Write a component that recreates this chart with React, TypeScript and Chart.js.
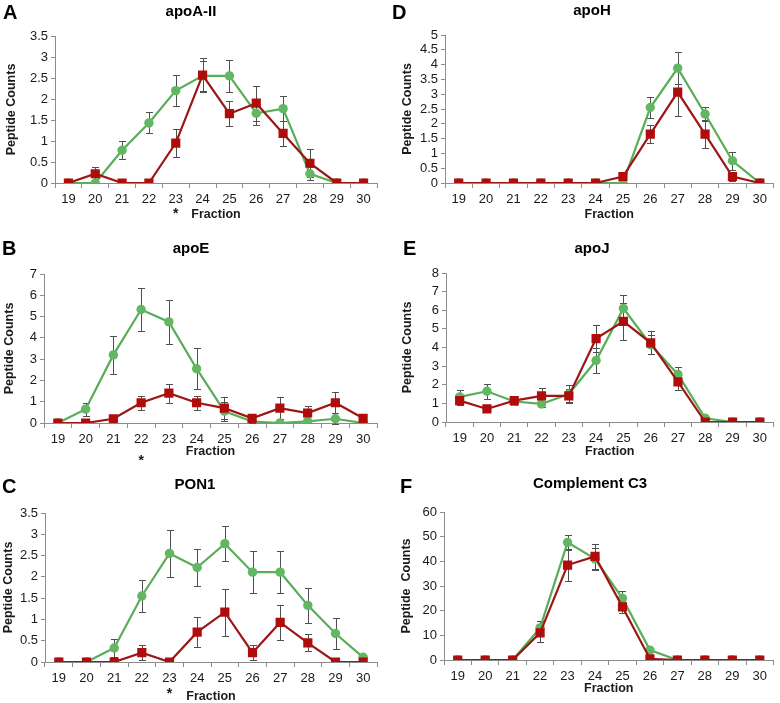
import React, { useEffect, useRef } from 'react';
import { Chart, registerables } from 'chart.js';

Chart.register(...registerables);

const FRACTIONS = ['19', '20', '21', '22', '23', '24', '25', '26', '27', '28', '29', '30'];

const APOA2_GREEN = [0, 0, 0.78, 1.43, 2.2, 2.55, 2.55, 1.66, 1.77, 0.22, 0, 0];
const APOA2_GREEN_ERR = [0, 0, 0.21, 0.25, 0.36, 0.36, 0.38, 0.28, 0.3, 0.15, 0, 0];
const APOA2_RED = [0, 0.22, 0, 0, 0.95, 2.57, 1.65, 1.9, 1.18, 0.47, 0, 0];
const APOA2_RED_ERR = [0, 0.17, 0, 0, 0.33, 0.4, 0.3, 0.42, 0.3, 0.33, 0, 0];

const APOE_GREEN = [0, 0.65, 3.2, 5.33, 4.75, 2.55, 0.55, 0.07, 0, 0.08, 0.2, 0];
const APOE_GREEN_ERR = [0, 0.3, 0.9, 1.0, 1.05, 0.97, 0.45, 0.05, 0, 0.05, 0.25, 0];
const APOE_RED = [0, 0, 0.2, 0.95, 1.4, 0.95, 0.7, 0.22, 0.7, 0.47, 0.95, 0.22];
const APOE_RED_ERR = [0, 0, 0.05, 0.33, 0.45, 0.33, 0.5, 0.08, 0.5, 0.33, 0.5, 0.05];

const PON1_GREEN = [0, 0, 0.33, 1.55, 2.55, 2.22, 2.78, 2.11, 2.11, 1.33, 0.67, 0.11];
const PON1_GREEN_ERR = [0, 0, 0.22, 0.37, 0.55, 0.44, 0.41, 0.5, 0.5, 0.42, 0.37, 0.05];
const PON1_RED = [0, 0, 0, 0.22, 0, 0.7, 1.17, 0.22, 0.93, 0.45, 0, 0];
const PON1_RED_ERR = [0, 0, 0, 0.17, 0, 0.35, 0.55, 0.17, 0.42, 0.2, 0, 0];

const APOH_GREEN = [0, 0, 0, 0, 0, 0, 0, 2.55, 3.88, 2.33, 0.75, 0];
const APOH_GREEN_ERR = [0, 0, 0, 0, 0, 0, 0, 0.35, 0.53, 0.25, 0.3, 0];
const APOH_RED = [0, 0, 0, 0, 0, 0, 0.22, 1.65, 3.07, 1.65, 0.22, 0];
const APOH_RED_ERR = [0, 0, 0, 0, 0, 0, 0.15, 0.3, 0.8, 0.47, 0.15, 0];

const APOJ_GREEN = [1.35, 1.65, 1.1, 0.97, 1.5, 3.3, 6.1, 4.15, 2.55, 0.2, 0, 0];
const APOJ_GREEN_ERR = [0.38, 0.4, 0.2, 0.15, 0.5, 0.67, 0.7, 0.5, 0.4, 0.1, 0, 0];
const APOJ_RED = [1.15, 0.7, 1.15, 1.4, 1.4, 4.48, 5.4, 4.25, 2.15, 0, 0, 0];
const APOJ_RED_ERR = [0.25, 0.15, 0.25, 0.45, 0.35, 0.72, 1.0, 0.62, 0.45, 0, 0, 0];

const C3_GREEN = [0, 0, 0, 13, 47.7, 41, 25, 4, 0, 0, 0, 0];
const C3_GREEN_ERR = [0, 0, 0, 3, 3, 4.5, 3, 0.5, 0, 0, 0, 0];
const C3_RED = [0, 0, 0, 11, 38.5, 42, 21.5, 0.5, 0, 0, 0, 0];
const C3_RED_ERR = [0, 0, 0, 3.5, 6.5, 5, 2.5, 0, 0, 0, 0, 0];

const FONT = 'Arial, "Liberation Sans", Helvetica, sans-serif';
const GREEN_LINE = '#58ad58';
const GREEN_FILL = '#62b762';
const RED_LINE = '#9c1616';
const RED_FILL = '#b00c0c';
const AXIS = '#8c8c8c';
const ERR = '#4f4f4f';
const TEXT = '#1a1a1a';

type PanelCfg = {
  letter: string;
  title: string;
  yTitle: string;
  yMax: number;
  yStep: number;
  green: number[];
  greenErr: number[];
  red: number[];
  redErr: number[];
  star: string | null;
  x0: number; y0: number; w: number; h: number;
  L: number; T: number; R: number; B: number;
  titleX: number; titleY: number; fracY: number; yTitleX: number;
  letterX: number; letterBase: number; starBase: number;
};

const PANELS: PanelCfg[] = [
  { letter: 'A', title: 'apoA-II', yTitle: 'Peptide Counts', yMax: 3.5, yStep: 0.5,
    green: APOA2_GREEN, greenErr: APOA2_GREEN_ERR, red: APOA2_RED, redErr: APOA2_RED_ERR, star: '23',
    x0: 0, y0: 0, w: 390, h: 230, L: 55, T: 36, R: 377, B: 183, titleX: 191, titleY: 12, fracY: 215, yTitleX: 12,
    letterX: 3, letterBase: 19, starBase: 218 },
  { letter: 'B', title: 'apoE', yTitle: 'Peptide Counts', yMax: 7, yStep: 1,
    green: APOE_GREEN, greenErr: APOE_GREEN_ERR, red: APOE_RED, redErr: APOE_RED_ERR, star: '22',
    x0: 0, y0: 230, w: 390, h: 230, L: 44, T: 44, R: 377, B: 193, titleX: 191, titleY: 19, fracY: 222, yTitleX: 10,
    letterX: 2, letterBase: 25, starBase: 235 },
  { letter: 'C', title: 'PON1', yTitle: 'Peptide Counts', yMax: 3.5, yStep: 0.5,
    green: PON1_GREEN, greenErr: PON1_GREEN_ERR, red: PON1_RED, redErr: PON1_RED_ERR, star: '23',
    x0: 0, y0: 460, w: 390, h: 243, L: 45, T: 53, R: 377, B: 202, titleX: 195, titleY: 25, fracY: 237, yTitleX: 9,
    letterX: 2, letterBase: 33, starBase: 238 },
  { letter: 'D', title: 'apoH', yTitle: 'Peptide Counts', yMax: 5, yStep: 0.5,
    green: APOH_GREEN, greenErr: APOH_GREEN_ERR, red: APOH_RED, redErr: APOH_RED_ERR, star: null,
    x0: 390, y0: 0, w: 390, h: 230, L: 55, T: 35, R: 388, B: 183, titleX: 202, titleY: 11, fracY: 215, yTitleX: 18,
    letterX: 2, letterBase: 19, starBase: 0 },
  { letter: 'E', title: 'apoJ', yTitle: 'Peptide Counts', yMax: 8, yStep: 1,
    green: APOJ_GREEN, greenErr: APOJ_GREEN_ERR, red: APOJ_RED, redErr: APOJ_RED_ERR, star: null,
    x0: 390, y0: 230, w: 390, h: 230, L: 56, T: 43, R: 386, B: 192, titleX: 202, titleY: 19, fracY: 222, yTitleX: 18,
    letterX: 13, letterBase: 25, starBase: 0 },
  { letter: 'F', title: 'Complement C3', yTitle: 'Peptide  Counts', yMax: 60, yStep: 10,
    green: C3_GREEN, greenErr: C3_GREEN_ERR, red: C3_RED, redErr: C3_RED_ERR, star: null,
    x0: 390, y0: 460, w: 390, h: 243, L: 54, T: 52, R: 385, B: 200, titleX: 200, titleY: 24, fracY: 229, yTitleX: 17,
    letterX: 10, letterBase: 33, starBase: 0 },
];

const decorPlugin = {
  id: 'panelDecor',
  beforeDatasetsDraw(chart: any) {
    const { ctx } = chart;
    const yScale = chart.scales.y;
    chart.data.datasets.forEach((ds: any, di: number) => {
      const errs: number[] = ds.errors || [];
      const meta = chart.getDatasetMeta(di);
      ctx.save();
      ctx.strokeStyle = ERR;
      ctx.lineWidth = 1;
      meta.data.forEach((pt: any, i: number) => {
        const e = errs[i];
        if (!e) return;
        const v = ds.data[i];
        const top = Math.round(yScale.getPixelForValue(v + e)) + 0.5;
        const bot = Math.round(yScale.getPixelForValue(v - e)) + 0.5;
        const x = Math.round(pt.x) + 0.5;
        ctx.beginPath();
        ctx.moveTo(x, top);
        ctx.lineTo(x, bot);
        ctx.moveTo(x - 3.5, top);
        ctx.lineTo(x + 3.5, top);
        ctx.moveTo(x - 3.5, bot);
        ctx.lineTo(x + 3.5, bot);
        ctx.stroke();
      });
      ctx.restore();
    });
  },
  afterDraw(chart: any, _args: any, opts: any) {
    const { ctx } = chart;
    ctx.save();
    ctx.fillStyle = '#000';
    ctx.font = `bold 20px ${FONT}`;
    ctx.textAlign = 'left';
    ctx.textBaseline = 'alphabetic';
    ctx.fillText(opts.letter, opts.letterX, opts.letterBase);
    ctx.font = `bold 15px ${FONT}`;
    ctx.textAlign = 'center';
    ctx.textBaseline = 'middle';
    ctx.fillText(opts.title, opts.titleX, opts.titleY);
    if (opts.star) {
      const idx = FRACTIONS.indexOf(opts.star);
      const x = chart.scales.x.getPixelForValue(idx);
      ctx.font = `bold 14px ${FONT}`;
      ctx.textAlign = 'center';
      ctx.textBaseline = 'alphabetic';
      ctx.fillStyle = TEXT;
      ctx.fillText('*', x, opts.starBase);
    }
    ctx.restore();
  },
};

function Panel({ cfg }: { cfg: PanelCfg }) {
  const ref = useRef<HTMLCanvasElement | null>(null);
  useEffect(() => {
    if (!ref.current) return;
    const axSize = 12.5;
    const axLH = axSize * 1.2;
    const chart = new Chart(ref.current, {
      type: 'line',
      data: {
        labels: FRACTIONS,
        datasets: [
          {
            label: 'red',
            data: cfg.red,
            errors: cfg.redErr,
            borderColor: RED_LINE,
            backgroundColor: RED_FILL,
            pointBackgroundColor: RED_FILL,
            pointBorderColor: RED_FILL,
            pointBorderWidth: 0,
            pointStyle: 'rect',
            pointRadius: 6.5,
            borderWidth: 2.2,
            tension: 0,
          } as any,
          {
            label: 'green',
            data: cfg.green,
            errors: cfg.greenErr,
            borderColor: GREEN_LINE,
            backgroundColor: GREEN_FILL,
            pointBackgroundColor: GREEN_FILL,
            pointBorderColor: GREEN_FILL,
            pointBorderWidth: 0,
            pointStyle: 'circle',
            pointRadius: 4.7,
            borderWidth: 2.2,
            tension: 0,
          } as any,
        ],
      },
      options: {
        responsive: false,
        animation: false,
        devicePixelRatio: 1,
        events: [],
        layout: { padding: { left: 0, top: cfg.T, right: cfg.w - cfg.R, bottom: 0 } },
        plugins: {
          legend: { display: false },
          tooltip: { enabled: false },
          title: { display: false },
          panelDecor: {
            letter: cfg.letter,
            letterX: cfg.letterX,
            letterBase: cfg.letterBase,
            title: cfg.title,
            titleX: cfg.titleX,
            titleY: cfg.titleY,
            star: cfg.star,
            starBase: cfg.starBase,
          },
        } as any,
        scales: {
          x: {
            type: 'category',
            offset: true,
            grid: { display: true, offset: true, drawOnChartArea: false, drawTicks: true, tickLength: 5, color: AXIS },
            border: { display: true, color: AXIS, width: 1 },
            ticks: { color: TEXT, font: { family: FONT, size: 13 }, padding: 4, maxRotation: 0, autoSkip: false },
            title: {
              display: true,
              text: 'Fraction',
              color: TEXT,
              font: { family: FONT, size: axSize, weight: 'bold', lineHeight: 1.2 },
              padding: { top: 0, bottom: cfg.h - cfg.fracY - axLH / 2 },
            },
            afterFit: (s: any) => {
              s.height = cfg.h - cfg.B;
              s.paddingLeft = 0;
              s.paddingRight = 0;
            },
          },
          y: {
            type: 'linear',
            min: 0,
            max: cfg.yMax,
            grid: { display: true, drawOnChartArea: false, drawTicks: true, tickLength: 4, color: AXIS },
            border: { display: true, color: AXIS, width: 1 },
            ticks: {
              stepSize: cfg.yStep,
              autoSkip: false,
              color: TEXT,
              font: { family: FONT, size: 13 },
              padding: 3,
              callback: (v: any) => String(Math.round(Number(v) * 100) / 100),
            },
            title: {
              display: true,
              text: cfg.yTitle,
              color: TEXT,
              font: { family: FONT, size: axSize, weight: 'bold', lineHeight: 1.2 },
              padding: { top: cfg.yTitleX - axLH / 2, bottom: 0 },
            },
            afterFit: (s: any) => {
              s.width = cfg.L;
              s.paddingTop = 0;
              s.paddingBottom = 0;
            },
          },
        },
      } as any,
      plugins: [decorPlugin as any],
    });
    return () => chart.destroy();
  }, [cfg]);
  return (
    <div style={{ position: 'absolute', left: cfg.x0, top: cfg.y0, width: cfg.w, height: cfg.h }}>
      <canvas ref={ref} width={cfg.w} height={cfg.h} style={{ width: cfg.w, height: cfg.h, display: 'block' }} />
    </div>
  );
}

export default function App() {
  return (
    <div style={{ position: 'absolute', left: 0, top: 0, width: 780, height: 703, background: '#fff', overflow: 'hidden' }}>
      {PANELS.map((p) => (
        <Panel key={p.letter} cfg={p} />
      ))}
    </div>
  );
}
